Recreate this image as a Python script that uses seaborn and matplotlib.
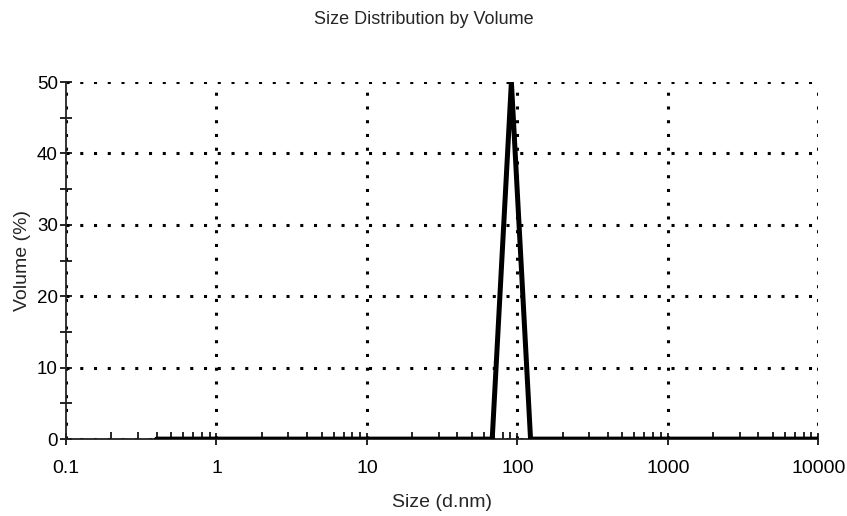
import numpy as np
import pandas as pd
import seaborn as sns
import matplotlib.pyplot as plt
from matplotlib.ticker import LogLocator, FixedLocator, NullFormatter

# size classes (d.nm) and volume (%)
sizes = [0.4, 1.0, 10.0, 50.0, 68.06, 78.82, 91.28, 105.7, 122.4, 200.0, 1000.0, 10000.0]
volume = [0, 0, 0, 0, 0, 25, 50, 25, 0, 0, 0, 0]

x_ticks = [0.1, 1, 10, 100, 1000, 10000]
x_labels = ['0.1', '1', '10', '100', '1000', '10000']
y_ticks = [0, 10, 20, 30, 40, 50]

df = pd.DataFrame({'Size': sizes, 'Volume': volume})

sns.set_style('white')
plt.rcParams['font.family'] = ['Liberation Sans', 'DejaVu Sans']

fig = plt.figure(figsize=(8.47, 5.16), dpi=100)
ax = fig.add_axes([0.078, 0.149, 0.888, 0.692])

sns.lineplot(data=df, x='Size', y='Volume', color='black', linewidth=3.6,
             estimator=None, sort=False, ax=ax, zorder=5)

ax.set_xscale('log')
ax.set_xlim(0.1, 10000)
ax.set_ylim(0, 50)

ax.xaxis.set_major_locator(FixedLocator(x_ticks))
ax.set_xticklabels(x_labels)
ax.xaxis.set_minor_locator(LogLocator(base=10, subs=np.arange(2, 10), numticks=20))
ax.xaxis.set_minor_formatter(NullFormatter())
ax.set_yticks(y_ticks)
ax.yaxis.set_minor_locator(FixedLocator([5, 15, 25, 35, 45]))

ax.tick_params(bottom=True, left=True, which='both')
ax.tick_params(axis='both', which='major', labelsize=14, colors='black',
               direction='inout', length=8, width=1.2)
ax.tick_params(axis='x', which='minor', direction='in', length=5, width=1.2, colors='black')
ax.tick_params(axis='y', which='minor', direction='inout', length=9, width=1.2, colors='black')
ax.tick_params(axis='x', which='major', pad=11)
ax.tick_params(axis='y', which='major', pad=2, labelsize=13.5)

ax.grid(True, which='major', color='black', linestyle=(0, (1, 3.5)), linewidth=2.2)
ax.set_axisbelow(True)
for side in ['top', 'right']:
    ax.spines[side].set_visible(False)
for side in ['left', 'bottom']:
    ax.spines[side].set_color('#222222')
    ax.spines[side].set_linewidth(1.3)
    ax.spines[side].set_zorder(4)

ax.set_xlabel('Size (d.nm)', fontsize=14, labelpad=12)
ax.set_ylabel('Volume (%)', fontsize=14, labelpad=4)
fig.suptitle('Size Distribution by Volume', fontsize=13, y=0.978)

fig.savefig('out.png', dpi=100)
